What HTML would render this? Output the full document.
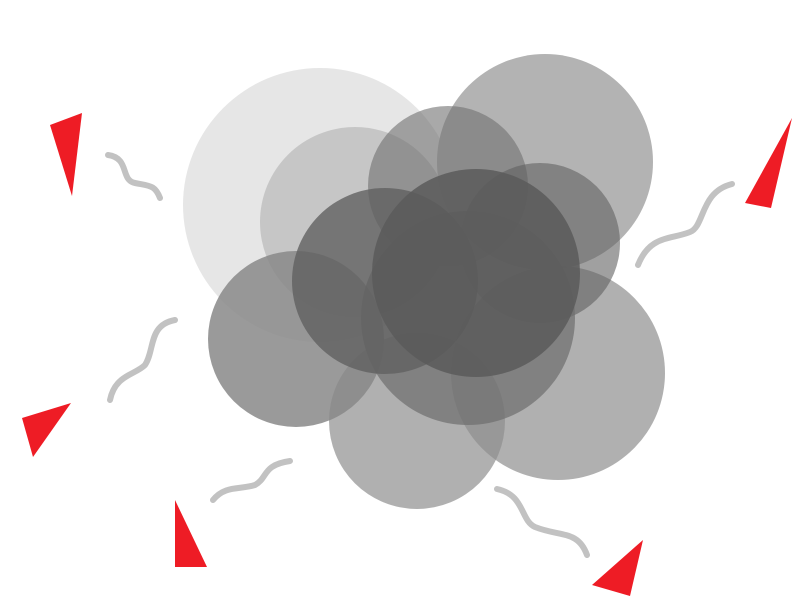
<!DOCTYPE html>
<html>
<head>
<meta charset="utf-8">
<style>
  html, body { margin: 0; padding: 0; background: #fff; }
  svg { display: block; }
</style>
</head>
<body>
<svg id="art" width="800" height="600" viewBox="0 0 800 600" xmlns="http://www.w3.org/2000/svg">
  <g id="circles"></g>
  <g id="squiggles" fill="none" stroke="#c2c2c2" stroke-width="6" stroke-linecap="round"></g>
  <g id="triangles" fill="#ee1c25"></g>
</svg>
<script>
// draw order: c1,c2,c3,c11,c10,c9,c4,c5,c8,c6,c7
const circleX = [320, 355, 545, 558, 417, 296, 448, 540, 468, 385, 476];
const circleY = [205, 222, 162, 373, 421, 339, 186, 243, 318, 281, 273];
const circleR = [137, 95, 108, 107, 88, 88, 80, 80, 107, 93, 104];
const circleFill = ["#e6e6e6", "#b0b0b0", "#b3b3b3", "#8f8f8f", "#8f8f8f", "#888888", "#707070", "#606060", "#6e6e6e", "#606060", "#5a5a5a"];
const circleAlpha = [1, 0.6, 1, 0.7, 0.7, 0.85, 0.6, 0.6, 0.7, 0.8, 0.85];

const triPoints = [
  "50,125 82,113 72,196",
  "745,203 792,118 771,208",
  "22,418 71,403 33,457",
  "175,500 175,567 207,567",
  "592,585 643,540 630,596"
];
const squigglePaths = [
  "M108,155 C130,158 120,180 135,183 C150,186 155,185 160,198",
  "M638,265 C650,235 670,240 690,232 C705,226 700,192 732,184",
  "M110,400 C115,375 135,375 145,365 C155,350 148,325 175,320",
  "M213,500 C225,485 240,490 255,485 C268,478 262,465 290,461",
  "M497,489 C525,495 520,520 535,527 C560,537 578,530 587,555"
];

const NS = "http://www.w3.org/2000/svg";
const cg = document.getElementById("circles");
for (let i = 0; i < circleX.length; i++) {
  const c = document.createElementNS(NS, "circle");
  c.setAttribute("cx", circleX[i]);
  c.setAttribute("cy", circleY[i]);
  c.setAttribute("r", circleR[i]);
  c.setAttribute("fill", circleFill[i]);
  c.setAttribute("fill-opacity", circleAlpha[i]);
  
  
  cg.appendChild(c);
}
const sg = document.getElementById("squiggles");
squigglePaths.forEach(d => {
  const p = document.createElementNS(NS, "path");
  p.setAttribute("d", d);
  
  
  sg.appendChild(p);
});
const tg = document.getElementById("triangles");
triPoints.forEach(pts => {
  const t = document.createElementNS(NS, "polygon");
  t.setAttribute("points", pts);
  
  
  tg.appendChild(t);
});
</script>
</body>
</html>
